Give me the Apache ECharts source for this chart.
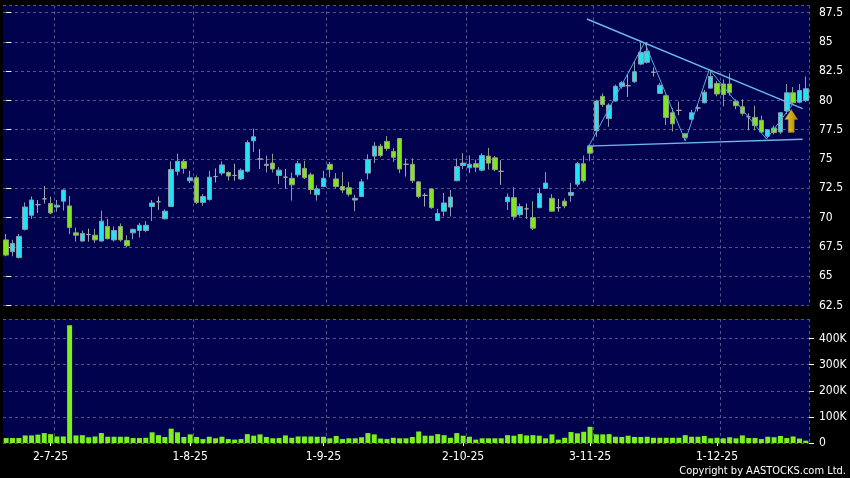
<!DOCTYPE html>
<html><head><meta charset="utf-8">
<script src="https://cdn.jsdelivr.net/npm/echarts@6/dist/echarts.min.js"></script>
<style>html,body{margin:0;padding:0;background:#000;}#c{width:850px;height:478px;}</style>
</head><body><div id="c"></div>
<script>
// trading days (d-m-yy)
const dates = [
'20-6-25','23-6-25','24-6-25','25-6-25','26-6-25','27-6-25','30-6-25',
'2-7-25','3-7-25','4-7-25','7-7-25','8-7-25','9-7-25','10-7-25','11-7-25','14-7-25','15-7-25','16-7-25','17-7-25','18-7-25','21-7-25','22-7-25','23-7-25','24-7-25','25-7-25','28-7-25','29-7-25','30-7-25','31-7-25',
'1-8-25','4-8-25','5-8-25','6-8-25','7-8-25','8-8-25','11-8-25','12-8-25','13-8-25','14-8-25','15-8-25','18-8-25','19-8-25','20-8-25','21-8-25','22-8-25','25-8-25','26-8-25','27-8-25','28-8-25','29-8-25',
'1-9-25','2-9-25','3-9-25','4-9-25','5-9-25','8-9-25','9-9-25','10-9-25','11-9-25','12-9-25','15-9-25','16-9-25','17-9-25','18-9-25','19-9-25','22-9-25','23-9-25','24-9-25','25-9-25','26-9-25','29-9-25','30-9-25',
'2-10-25','3-10-25','6-10-25','8-10-25','9-10-25','10-10-25','13-10-25','14-10-25','15-10-25','16-10-25','17-10-25','20-10-25','21-10-25','22-10-25','23-10-25','24-10-25','27-10-25','28-10-25','30-10-25','31-10-25',
'3-11-25','4-11-25','5-11-25','6-11-25','7-11-25','10-11-25','11-11-25','12-11-25','13-11-25','14-11-25','17-11-25','18-11-25','19-11-25','20-11-25','21-11-25','24-11-25','25-11-25','26-11-25','27-11-25','28-11-25',
'1-12-25','2-12-25','3-12-25','4-12-25','5-12-25','8-12-25','9-12-25','10-12-25','11-12-25','12-12-25','15-12-25','16-12-25','17-12-25','18-12-25','19-12-25'
];
const labelDates = ['2-7-25','1-8-25','1-9-25','2-10-25','3-11-25','1-12-25'];

const openP = [
68.1,67.1,66.6,69.0,70.2,71.1,71.6,71.2,70.9,71.4,
71.0,68.7,68.0,68.55,68.5,68.0,69.25,68.1,69.25,68.05,
68.7,68.9,68.9,70.95,71.35,69.9,70.95,73.95,74.8,73.15,
73.4,71.3,71.55,73.5,73.8,73.85,73.6,73.3,73.95,76.55,
75.0,74.45,74.65,73.6,73.45,73.35,73.65,74.2,73.65,71.95,
72.65,74.55,73.3,72.65,72.55,71.5,71.8,73.8,75.25,76.1,
76.5,75.65,76.75,74.55,74.55,73.05,71.9,72.45,69.75,70.55,
70.9,73.15,74.45,74.25,74.6,74.05,75.25,75.1,73.95,71.35,
71.7,70.25,70.75,70.0,70.85,72.5,71.65,70.85,71.4,71.9,
72.85,74.6,76.1,77.4,80.35,78.45,79.95,81.2,81.25,81.6,
83.1,83.25,82.4,80.6,80.4,78.95,79.15,77.15,78.4,79.35,
79.8,81.05,81.45,81.4,81.4,79.9,79.45,78.6,78.55,78.3,
76.95,77.65,77.3,79.1,80.65,79.85,80.0
];
const closeP = [
66.8,67.8,68.4,70.9,71.5,71.1,71.6,70.4,71.05,72.35,
69.15,68.5,68.65,68.55,68.1,69.7,68.2,68.9,68.1,67.6,
69.0,69.35,69.35,71.25,71.35,70.55,74.1,74.8,74.2,73.4,
71.3,71.8,73.45,73.5,74.5,73.55,73.6,74.05,76.4,76.9,
75.0,74.55,74.15,74.05,73.45,72.8,74.6,73.4,72.4,72.45,
73.35,74.1,72.65,72.35,72.0,71.65,73.05,74.95,76.1,75.3,
75.9,75.15,74.15,74.55,73.15,71.8,71.9,70.85,70.35,71.25,
71.75,74.35,74.65,74.55,74.3,75.3,74.65,74.1,73.95,71.75,
70.1,70.95,70.75,69.1,72.05,72.95,70.55,70.85,71.0,72.15,
74.6,73.15,75.5,79.95,79.65,79.6,81.2,81.5,81.25,82.45,
84.1,84.2,82.4,81.3,78.55,78.0,79.15,76.85,78.95,79.35,
80.7,82.05,80.55,80.5,80.65,79.55,78.9,78.6,77.85,77.3,
77.5,77.25,78.95,80.65,79.8,80.85,81.0
];
const highP = [
68.6,68.1,68.6,71.3,71.8,71.5,72.7,71.8,71.5,72.4,
71.85,69.15,68.9,69.05,69.05,70.6,69.9,69.25,69.5,68.5,
69.05,69.55,69.7,71.5,71.8,70.7,74.8,75.45,75.0,74.0,
73.6,72.0,74.0,74.2,74.8,73.95,74.6,74.2,76.6,77.6,
75.85,75.3,75.45,74.3,74.15,73.85,74.85,74.85,73.85,72.75,
74.0,74.75,73.8,73.9,73.05,71.95,73.3,75.4,76.45,76.3,
76.95,75.95,76.8,75.05,75.05,73.1,72.1,72.5,70.75,72.1,
72.35,75.05,75.5,75.3,74.95,75.5,75.95,75.25,74.9,72.05,
72.6,71.2,71.2,71.4,72.55,73.9,72.0,71.6,71.65,72.95,
74.75,75.3,76.2,80.05,80.6,79.75,81.35,81.65,82.2,83.35,
84.9,84.95,82.8,81.5,80.5,79.35,79.9,77.2,79.2,79.65,
80.9,82.55,81.65,81.8,82.3,80.1,80.1,78.9,79.55,78.7,
77.55,77.85,79.0,81.4,81.15,81.4,82.05
];
const lowP = [
66.7,66.7,66.5,68.9,69.9,70.4,71.2,70.3,70.5,70.6,
68.6,67.95,67.95,67.95,67.85,67.95,68.15,67.95,67.95,67.45,
68.15,68.3,68.75,69.7,70.65,69.85,70.9,73.6,73.75,72.95,
71.15,71.0,71.45,73.0,73.6,73.15,73.15,73.2,73.85,75.6,
74.15,73.85,73.85,72.85,72.45,71.45,73.45,73.3,72.0,71.45,
72.6,73.45,72.5,72.1,71.8,70.55,71.8,73.25,74.65,75.15,
75.7,74.75,73.8,73.5,72.95,71.65,70.95,70.75,69.7,70.1,
70.1,73.1,74.15,73.8,73.9,73.95,74.1,73.95,72.8,70.65,
69.8,70.1,69.9,68.95,70.8,72.45,70.5,70.5,70.8,71.35,
72.65,73.0,74.85,76.9,79.45,77.75,79.9,81.0,80.3,81.5,
83.0,83.15,82.05,80.55,77.9,77.35,78.75,76.6,78.3,79.05,
79.75,81.0,80.35,79.5,80.4,79.25,78.7,77.45,77.45,77.2,
76.8,77.1,77.15,78.85,79.7,79.75,79.85
];
// volume in thousands of shares
const volumeK = [
19,19,19,29,29,32,38,34,25,25,
451,29,30,22,25,38,24,24,24,24,
19,19,20,41,30,23,55,41,23,33,
23,15,24,18,24,15,13,15,34,28,
33,23,18,19,29,20,25,25,25,24,
24,18,27,15,18,18,22,38,33,17,
15,20,18,18,23,44,28,28,34,30,
20,38,28,24,13,18,18,18,18,30,
28,34,29,30,28,18,33,13,20,42,
37,43,62,33,33,34,24,23,28,23,
23,24,20,20,20,20,20,30,24,24,
27,18,20,18,22,18,29,19,19,15,
24,22,27,19,25,17,9
];
// annotation lines, in [trading-day index, price]
const resistanceLine = [[91.5, 86.95], [125.5, 79.3]];
const supportLine = [[91.6, 76.1], [125.5, 76.68]];
const zigzagLine = [[91.8, 76.1], [100.6, 84.95], [107.0, 76.55], [110.8, 82.65], [119.8, 76.7], [123.9, 79.65]];
const arrowPoint = [[123.7, 78.25]];
const priceTicks = {min: 62.5, max: 88.1, step: 2.5};
const volTicks = {min: 0, max: 475000, step: 100000};

const FONT = "'Liberation Sans Narrow','DejaVu Sans Condensed','Roboto Condensed','Liberation Sans',sans-serif";
const GRID_BG = '#00024e';
const SPLIT = {show: true, lineStyle: {color: '#4d5890', type: [3, 3], width: 1}};
const isLabel = (i, v) => labelDates.indexOf(v) >= 0;
const isSplit = (i) => i > 0 && labelDates.indexOf(dates[i - 1]) >= 0;

const candleData = dates.map((d, i) => [openP[i], closeP[i], lowP[i], highP[i]]);
const volData = volumeK.map(v => v * 1000);

const chart = echarts.init(document.getElementById('c'), null, {renderer: 'canvas'});
chart.setOption({
  animation: false,
  backgroundColor: '#000000',
  grid: [
    {left: 3, top: 5.5, width: 806, height: 300, show: true, backgroundColor: GRID_BG, borderWidth: 0},
    {left: 3, top: 319, width: 806, height: 124, show: true, backgroundColor: GRID_BG, borderWidth: 0}
  ],
  xAxis: [
    {type: 'category', gridIndex: 0, data: dates, boundaryGap: true,
     axisLine: {show: false}, axisTick: {show: false}, axisLabel: {show: false},
     splitLine: Object.assign({interval: isSplit}, SPLIT)},
    {type: 'category', gridIndex: 1, data: dates, boundaryGap: true,
     axisLine: {show: false},
     axisTick: {show: true, interval: isLabel, alignWithLabel: true, length: 3, lineStyle: {color: '#ffffff'}},
     axisLabel: {show: true, interval: isLabel, color: '#ffffff', fontSize: 12, fontFamily: FONT, margin: 8},
     splitLine: Object.assign({interval: isSplit}, SPLIT)},
    {type: 'value', gridIndex: 0, min: -0.5, max: 126.5, show: false}
  ],
  yAxis: [
    {type: 'value', gridIndex: 0, position: 'right', min: priceTicks.min, max: priceTicks.max, interval: priceTicks.step,
     axisLine: {show: false},
     axisTick: {show: true, length: 5, lineStyle: {color: '#ffffff'}},
     axisLabel: {color: '#ffffff', fontSize: 12, fontFamily: FONT, margin: 10, showMaxLabel: false,
       formatter: v => String(Math.round(v * 10) / 10)},
     splitLine: SPLIT},
    {type: 'value', gridIndex: 1, position: 'right', min: volTicks.min, max: volTicks.max, interval: volTicks.step,
     axisLine: {show: false},
     axisTick: {show: true, length: 5, lineStyle: {color: '#ffffff'}},
     axisLabel: {color: '#ffffff', fontSize: 12, fontFamily: FONT, margin: 10, showMaxLabel: false,
       formatter: v => v === 0 ? '0' : (v / 1000) + 'K'},
     splitLine: SPLIT}
  ],
  series: [
    {type: 'candlestick', xAxisIndex: 0, yAxisIndex: 0, data: candleData, barWidth: 5, silent: true,
     itemStyle: {color: '#22e3f3', color0: '#7ee81c', borderColor: '#8c9bab', borderColor0: '#8f9f86',
       borderColorDoji: '#a3a8b0', borderWidth: 1}},
    {type: 'bar', xAxisIndex: 1, yAxisIndex: 1, data: volData, barWidth: 5, silent: true,
     itemStyle: {color: '#7cf01c'}},
    {type: 'line', xAxisIndex: 2, yAxisIndex: 0, data: resistanceLine, symbol: 'none', silent: true,
     lineStyle: {color: '#6cb6ea', width: 1.5}},
    {type: 'line', xAxisIndex: 2, yAxisIndex: 0, data: supportLine, symbol: 'none', silent: true,
     lineStyle: {color: '#6cb6ea', width: 1.5}},
    {type: 'line', xAxisIndex: 2, yAxisIndex: 0, data: zigzagLine, symbol: 'none', silent: true,
     lineStyle: {color: '#5aa8e0', width: 1}},
    {type: 'scatter', xAxisIndex: 2, yAxisIndex: 0, data: arrowPoint, silent: true,
     symbol: 'path://M6.5,0 L13,10 L9.5,10 L9.5,23 L3.5,23 L3.5,10 L0,10 Z', symbolSize: [13, 23],
     itemStyle: {color: new echarts.graphic.LinearGradient(0, 0, 1, 0, [
       {offset: 0, color: '#fff176'}, {offset: 0.5, color: '#ffd400'}, {offset: 1, color: '#e69a00'}]),
       borderColor: '#b07800', borderWidth: 0.5}, z: 10}
  ],
  graphic: [
    {type: 'text', right: 4, bottom: 1, silent: true,
     style: {text: 'Copyright by AASTOCKS.com Ltd.', fill: '#ffffff', font: '11px ' + FONT}}
  ]
});
</script></body></html>
